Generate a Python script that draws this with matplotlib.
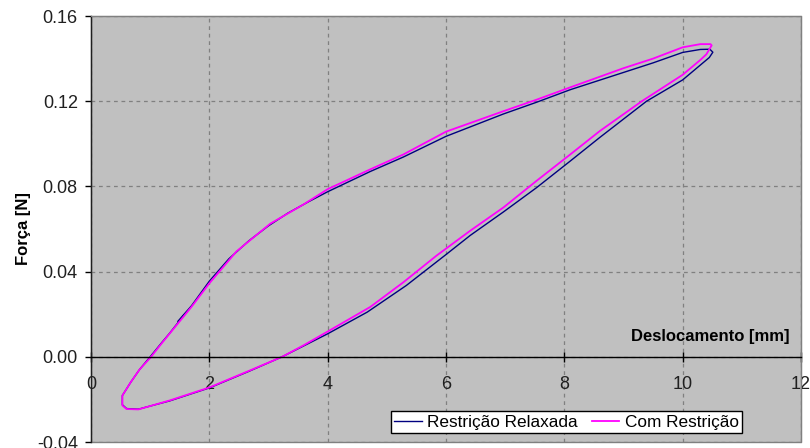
import matplotlib
matplotlib.use("Agg")
import matplotlib.pyplot as plt

plt.rcParams['font.family'] = ['Liberation Sans', 'DejaVu Sans']

# Restrição Relaxada (loop)
x_relax = [1.47, 1.7, 2.0, 2.33, 2.67, 3.0, 3.33, 3.67, 4.0, 4.72, 5.28, 6.0,
           6.97, 7.53, 8.1, 9.0, 9.5, 10.0, 10.3, 10.46, 10.51,
           10.45, 10.3, 10.0, 9.39, 8.6, 8.1, 7.53, 6.97, 6.41, 6.0, 5.33,
           4.67, 4.0, 3.23, 2.67, 2.0, 1.33, 0.8, 0.6, 0.53, 0.53, 0.67,
           0.82, 1.0, 1.2, 1.33, 1.5, 1.62]
y_relax = [0.0167, 0.024, 0.0355, 0.046, 0.0545, 0.0615, 0.0675, 0.0727,
           0.0775, 0.087, 0.0938, 0.1035, 0.114, 0.1195, 0.1254, 0.1335,
           0.138, 0.1429, 0.1443, 0.1444, 0.143,
           0.1405, 0.137, 0.130, 0.120, 0.103, 0.0919, 0.0794, 0.068, 0.057,
           0.048, 0.0335, 0.021, 0.0108, 0.0, -0.0068, -0.0146, -0.0207,
           -0.0246, -0.0243, -0.0225, -0.0182, -0.012, -0.006, 0.0, 0.0068,
           0.0111, 0.0171, 0.021]

# Com Restrição
x_com = [1.0, 1.2, 1.45, 1.7, 2.0, 2.46, 3.03, 3.59, 4.0, 4.72, 5.28, 6.0,
         6.97, 7.53, 8.1, 9.0, 9.5, 10.0, 10.3, 10.47, 10.49,
         10.4, 10.3, 10.0, 9.31, 8.6, 8.1, 7.53, 6.97, 6.41, 5.84, 5.28,
         4.72, 4.04, 3.6, 3.23, 2.67, 2.0, 1.33, 0.8, 0.6, 0.53, 0.53, 0.67,
         0.82, 1.0]
y_com = [-0.0005, 0.0065, 0.015, 0.0235, 0.0345, 0.0495, 0.0625, 0.0715,
         0.0787, 0.088, 0.095, 0.1057, 0.1153, 0.1207, 0.1265, 0.1355, 0.140,
         0.1453, 0.1468, 0.1468, 0.1462,
         0.142, 0.1394, 0.1324, 0.120, 0.106, 0.095, 0.0826, 0.0701, 0.0592,
         0.0475, 0.035, 0.0234, 0.0125, 0.0055, 0.0, -0.0066, -0.0144,
         -0.0205, -0.0247, -0.0245, -0.0228, -0.0182, -0.012, -0.006, -0.0005]

x_ticks = [0, 2, 4, 6, 8, 10, 12]
y_ticks = [-0.04, 0.0, 0.04, 0.08, 0.12, 0.16]

fig = plt.figure(figsize=(8.1, 4.48), dpi=100)
ax = fig.add_axes([91 / 810, 1 - 442 / 448, 710 / 810, 426 / 448])
ax.set_facecolor('#C0C0C0')
ax.patch.set_edgecolor('#808080')
ax.patch.set_linewidth(1.0)

ax.plot(x_relax, y_relax, color='#000080', linewidth=1.0, label='Restrição Relaxada')
ax.plot(x_com, y_com, color='#FF00FF', linewidth=1.3, label='Com Restrição')

ax.set_xlim(0, 12)
ax.set_ylim(-0.04, 0.16)
ax.set_xticks(x_ticks)
ax.set_xticklabels([str(v) for v in x_ticks])
ax.set_yticks(y_ticks)
ax.set_yticklabels(['%.2f' % v for v in y_ticks])

# dashed grid behind the curves
ax.grid(True, color='#808080', linestyle=(0, (3, 3)), linewidth=0.9)
ax.set_axisbelow(True)

# x axis crosses at zero, Excel style
ax.spines['bottom'].set_position(('data', 0))
ax.spines['bottom'].set_color('black')
ax.spines['bottom'].set_linewidth(1.0)
ax.spines['left'].set_color('#202020')
ax.spines['left'].set_linewidth(1.0)
ax.spines['top'].set_color('#808080')
ax.spines['right'].set_color('#808080')

ax.tick_params(axis='y', direction='out', length=4.5, width=1, pad=5,
               labelsize=13, colors='black', labelcolor='#202020')
ax.tick_params(axis='x', direction='inout', length=7, width=1, pad=10.5,
               labelsize=13, colors='black', labelcolor='#202020')

ax.set_ylabel('Força [N]', fontsize=12, fontweight='bold')
ax.yaxis.set_label_coords(-0.084, 0.5)
ax.text(0.984, 0.2465, 'Deslocamento [mm]', transform=ax.transAxes,
        ha='right', va='center', fontsize=12, fontweight='bold')

leg = ax.legend(loc='lower left', bbox_to_anchor=(0.4225, 0.0211, 0.4945, 0.0634),
                mode='expand', ncol=2, fontsize=12.4, frameon=True, fancybox=False,
                borderaxespad=0, handlelength=1.6, handletextpad=0.3,
                borderpad=0.2, columnspacing=1.2)
leg.get_frame().set_edgecolor('black')
leg.get_frame().set_facecolor('white')
leg.get_frame().set_alpha(1)
leg.get_frame().set_linewidth(1.0)

fig.savefig('out.png', dpi=100)
